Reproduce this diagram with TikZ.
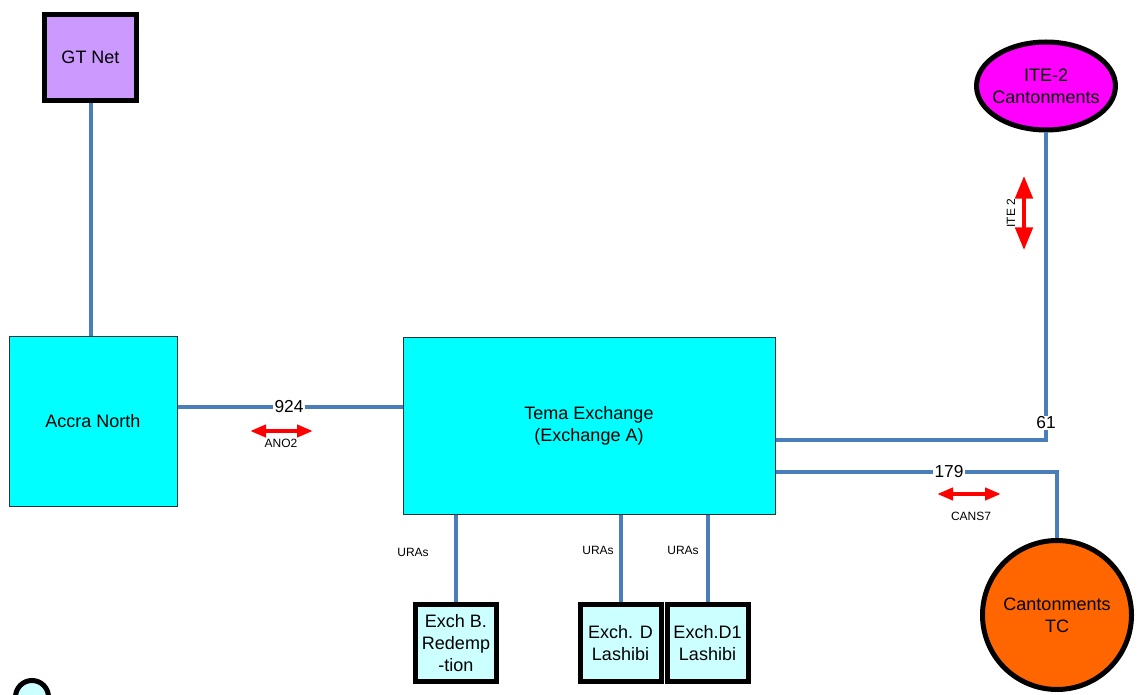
\documentclass[tikz,border=0pt]{standalone}
\usepackage{fontspec}
\setmainfont{Liberation Sans}
\usetikzlibrary{arrows.meta,shapes.geometric,calc}
\definecolor{linkblue}{HTML}{4A7EBB}
\definecolor{gtpurple}{HTML}{CC99FF}
\definecolor{lightcyan}{HTML}{CCFFFF}
\definecolor{tcorange}{HTML}{FF6600}
\definecolor{purecyan}{HTML}{00FFFF}
\definecolor{puremagenta}{HTML}{FF00FF}
\tikzset{
  bigtext/.style={font=\fontsize{13.5}{16.5}\selectfont, align=center, text=black},
  heavybox/.style={bigtext, draw=black, line width=3.75pt, inner sep=0pt},
  cyanbox/.style={bigtext, rectangle, draw=black!80, line width=0.75pt, fill=purecyan, inner sep=0pt},
  subbox/.style={heavybox, rectangle, fill=lightcyan, minimum width=60.75pt, minimum height=57.75pt},
  link/.style={draw=linkblue, line width=3pt},
  numlabel/.style={font=\fontsize{13}{15}\selectfont, fill=white, inner sep=1pt},
  smalllabel/.style={font=\fontsize{9}{11}\selectfont, inner sep=0pt},
  redarrowh/.style={draw=red, line width=3pt, {Triangle[length=12pt,width=9pt]}-{Triangle[length=12pt,width=9pt]}},
  redarrowv/.style={draw=red, line width=3pt, {Triangle[length=17pt,width=13pt]}-{Triangle[length=17pt,width=13pt]}}
}
\begin{document}
\begin{tikzpicture}[x=0.75pt,y=-0.75pt]
\useasboundingbox (0,0) rectangle (1142,695);

% nodes
\node[heavybox, rectangle, fill=gtpurple, minimum width=69pt, minimum height=64.5pt] (gt) at (90.5,57.5) {GT Net};
\node[cyanbox, minimum width=126pt, minimum height=127.5pt] (accra) at (93,421) {Accra North};
\node[cyanbox, minimum width=279pt, minimum height=132.75pt] (tema) at (589,425.5) {Tema Exchange\\(Exchange A)};
\node[heavybox, ellipse, fill=puremagenta, inner sep=-3.5pt, minimum width=104.25pt, minimum height=66pt] (ite) at (1046,86) {ITE-2\\Cantonments};
\node[heavybox, circle, fill=tcorange, inner sep=-0.5pt, minimum size=111.75pt] (tc) at (1057,615) {Cantonments\\TC};
\node[subbox] (exb) at (456,643) {Exch B.\\Redemp\\-tion};
\node[subbox] (exd) at (620.5,643) {Exch. D\\Lashibi};
\node[subbox] (exd1) at (707.5,643) {Exch.D1\\Lashibi};
\node[heavybox, circle, fill=lightcyan, minimum size=24.75pt] (small) at (32,697) {};

% helper coordinates
\coordinate (y407) at (0,407);
\coordinate (y440) at (0,440);
\coordinate (y472) at (0,472);

% connectors
\draw[link] (gt.south) -- (gt.south |- accra.north);
\draw[link] (accra.east |- y407) -- (tema.west |- y407);
\draw[link] (tema.east |- y440) -| (ite.south);
\draw[link] (tema.east |- y472) -| (tc.north);
\draw[link] (exb.north |- tema.south) -- (exb.north);
\draw[link] (exd.north |- tema.south) -- (exd.north);
\draw[link] (exd1.north |- tema.south) -- (exd1.north);

% labels on links
\node[numlabel] (l924) at (289,407) {924};
\node[numlabel] (l61) at (1046,423) {61};
\node[numlabel] (l179) at (949,472) {179};

% red arrows
\coordinate (a1s) at (250,431); \coordinate (a1e) at (313,431);
\draw[redarrowh] (a1s) -- (a1e);
\node[smalllabel] (ano2) at (281,443) {ANO2};

\coordinate (a2s) at (1024,176); \coordinate (a2e) at (1024,250);
\draw[redarrowv] (a2s) -- (a2e);
\node[smalllabel, rotate=90] (ite2) at (1011,213) {ITE 2};

\coordinate (a3s) at (937,494); \coordinate (a3e) at (1001,494);
\draw[redarrowh] (a3s) -- (a3e);
\node[smalllabel] (cans7) at (971,516) {CANS7};

\node[smalllabel] (u1) at (413,552) {URAs};
\node[smalllabel] (u2) at (598,550) {URAs};
\node[smalllabel] (u3) at (683,550) {URAs};
\end{tikzpicture}
\end{document}
